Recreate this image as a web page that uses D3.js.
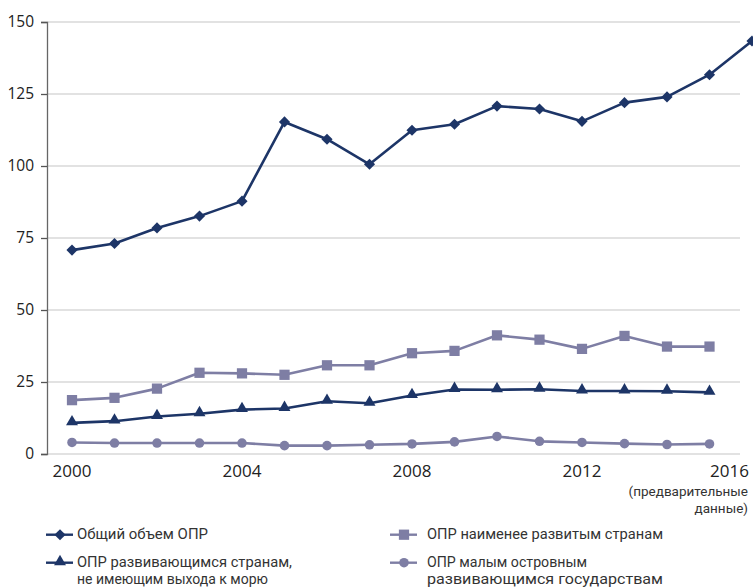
<!DOCTYPE html>
<html><head><meta charset="utf-8">
<script src="https://cdn.jsdelivr.net/npm/d3@7"></script>
<style>
html,body{margin:0;padding:0;background:#fff;}
svg{display:block;}
</style></head>
<body>
<svg id="c" width="753" height="588"></svg>
<script>
const years = [2000,2001,2002,2003,2004,2005,2006,2007,2008,2009,2010,2011,2012,2013,2014,2015,2016];
const yearsShort = [2000,2001,2002,2003,2004,2005,2006,2007,2008,2009,2010,2011,2012,2013,2014,2015];
const totalODA = [70.8,73.1,78.5,82.6,87.8,115.3,109.3,100.6,112.4,114.5,120.8,119.8,115.5,122.0,124.0,131.7,143.4];
const ldcODA   = [18.7,19.5,22.7,28.2,28.0,27.5,30.8,30.8,35.0,35.8,41.2,39.7,36.5,41.0,37.3,37.3];
const lldcODA  = [10.8,11.4,13.0,14.0,15.4,15.8,18.3,17.6,20.3,22.4,22.3,22.5,21.9,21.9,21.8,21.4];
const sidsODA  = [4.0,3.8,3.8,3.8,3.8,2.9,2.9,3.2,3.5,4.2,6.1,4.4,4.0,3.6,3.3,3.5];
const yTicks = [0,25,50,75,100,125,150];
const xTickYears = [2000,2004,2008,2012,2016];
const footnote = ["(предварительные","данные)"];
const legendLabels = [
  ["Общий объем ОПР"],
  ["ОПР наименее развитым странам"],
  ["ОПР развивающимся странам,","не имеющим выхода к морю"],
  ["ОПР малым островным","развивающимся государствам"]
];

const NAVY = "#1d3567", GREY = "#7e7ea4";
const COND = "Roboto, 'Liberation Sans', sans-serif";
const diamond = { draw(ctx, size) { const r = Math.sqrt(size/2); ctx.moveTo(0,-r); ctx.lineTo(r,0); ctx.lineTo(0,r); ctx.lineTo(-r,0); ctx.closePath(); } };
const series = [
  {x: years, v: totalODA, color: NAVY, sym: diamond, size: 62, dy: 0},
  {x: yearsShort, v: ldcODA, color: GREY, sym: d3.symbolSquare, size: 105, dy: 0},
  {x: yearsShort, v: lldcODA, color: NAVY, sym: d3.symbolTriangle, size: 62, dy: -1},
  {x: yearsShort, v: sidsODA, color: GREY, sym: d3.symbolCircle, size: 72, dy: 0}
];

const svg = d3.select("#c");
const x = d3.scaleLinear().domain([2000,2016]).range([72,752]);
const y = d3.scaleLinear().domain([0,150]).range([454,22]);
const gridRight = 740, axisX = 47;

// gridlines
svg.append("g").selectAll("line").data(yTicks).join("line")
  .attr("x1", axisX).attr("x2", gridRight)
  .attr("y1", d=>y(d)).attr("y2", d=>y(d))
  .attr("stroke", "#d9d9d9").attr("stroke-width", 1.5);

// y axis
const yAxis = d3.axisLeft(y).tickValues(yTicks).tickSize(6).tickPadding(7);
const gy = svg.append("g").attr("transform", `translate(${axisX},0)`).call(yAxis);
gy.select(".domain").attr("stroke", "#666").attr("stroke-width", 1.3);
gy.selectAll(".tick line").attr("stroke", "#555").attr("stroke-width", 1.3);
gy.selectAll(".tick text").attr("font-family", "'Open Sans', sans-serif")
  .attr("font-size", 15.5).attr("fill", "#222");

// x labels
svg.append("g").selectAll("text").data(xTickYears).join("text")
  .attr("x", d => d===2016 ? 749 : x(d))
  .attr("y", 477)
  .attr("text-anchor", d => d===2016 ? "end" : "middle")
  .attr("font-family", "'Open Sans', sans-serif").attr("font-size", 17)
  .attr("fill", "#222").text(d=>d);

svg.append("g").selectAll("text").data(footnote).join("text")
  .attr("x", 748).attr("y", (d,i)=>496 + i*17)
  .attr("text-anchor", "end")
  .attr("font-family", COND)
  .attr("font-size", 13.5).attr("fill", "#333").text(d=>d);

// lines and markers
const line = d3.line().x(d=>x(d[0])).y(d=>y(d[1]));
series.forEach(s => {
  const pts = s.x.map((yr,i)=>[yr, s.v[i]]);
  svg.append("path").datum(pts).attr("d", line)
    .attr("fill","none").attr("stroke", s.color).attr("stroke-width", 2.6)
    .attr("stroke-linejoin","round");
  svg.append("g").selectAll("path").data(pts).join("path")
    .attr("transform", d=>`translate(${x(d[0])},${y(d[1]) + s.dy})`)
    .attr("d", d3.symbol().type(s.sym).size(s.size))
    .attr("fill", s.color);
});

// legend
const legPos = [
  {mx: 60, tx: 77, ty: 539},
  {mx: 404, tx: 427, ty: 539},
  {mx: 60, tx: 77, ty: 567},
  {mx: 404, tx: 427, ty: 567}
];
const legWidths = [[131],[236],[215,191],[160,236]];
series.forEach((s,i) => {
  const p = legPos[i];
  const g = svg.append("g");
  const ly = p.ty - 4.3;
  g.append("line").attr("x1", p.mx-14).attr("x2", p.mx+13).attr("y1", ly).attr("y2", ly)
    .attr("stroke", s.color).attr("stroke-width", 2.4);
  g.append("path").attr("transform", `translate(${p.mx},${ly + s.dy})`)
    .attr("d", d3.symbol().type(s.sym).size(s.size)).attr("fill", s.color);
  legendLabels[i].forEach((t,j) => {
    g.append("text").attr("x", p.tx).attr("y", p.ty + j*16.6)
      .attr("textLength", legWidths[i][j]).attr("lengthAdjust", "spacingAndGlyphs")
      .attr("font-family", COND)
      .attr("font-size", 14).attr("fill", "#333").text(t);
  });
});
</script>
</body></html>
